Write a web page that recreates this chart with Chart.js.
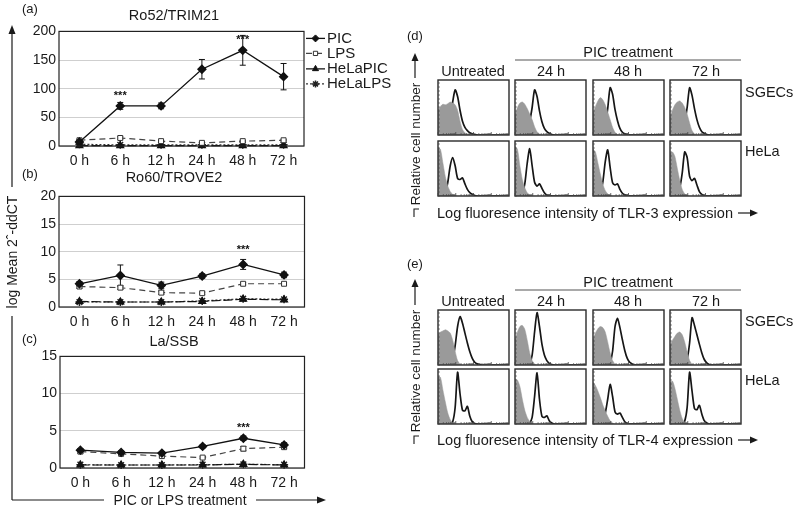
<!DOCTYPE html>
<html>
<head>
<meta charset="utf-8">
<script src="https://cdn.jsdelivr.net/npm/chart.js@4.4.1/dist/chart.umd.min.js"></script>
<style>
  body { margin:0; background:#fff; width:798px; height:509px; overflow:hidden; position:relative; font-family:"Liberation Sans", Arial, sans-serif; }
  canvas { position:absolute; }
  #deco { position:absolute; left:0; top:0; pointer-events:none; }
  #deco text { font-family:"Liberation Sans", Arial, sans-serif; fill:#1a1a1a; }
</style>
</head>
<body>
<svg id="deco" width="798" height="509">
  <!-- left: shared axes -->
  <g stroke="#1a1a1a" stroke-width="1.2" fill="none">
    <line x1="12" y1="31" x2="12" y2="187"/>
    <line x1="12" y1="316" x2="12" y2="500"/>
    <line x1="12" y1="500" x2="104" y2="500"/>
    <line x1="256" y1="500" x2="318" y2="500"/>
  </g>
  <polygon points="12,25 8.5,34 15.5,34" fill="#1a1a1a"/>
  <polygon points="326,500 317,496.5 317,503.5" fill="#1a1a1a"/>
  <text x="12" y="252" font-size="14" text-anchor="middle" dominant-baseline="central" transform="rotate(-90 12 252)">log Mean 2ˆ-ddCT</text>
  <text x="180" y="500" font-size="14" text-anchor="middle" dominant-baseline="central">PIC or LPS treatment</text>
  <text x="22" y="8" font-size="13" dominant-baseline="central">(a)</text>
  <text x="22" y="173" font-size="13" dominant-baseline="central">(b)</text>
  <text x="22" y="338" font-size="13" dominant-baseline="central">(c)</text>
  <text x="174" y="15" font-size="14.5" text-anchor="middle" dominant-baseline="central">Ro52/TRIM21</text>
  <text x="174" y="177" font-size="14.5" text-anchor="middle" dominant-baseline="central">Ro60/TROVE2</text>
  <text x="174" y="341" font-size="14.5" text-anchor="middle" dominant-baseline="central">La/SSB</text>

  <!-- right: (d) TLR-3 -->
  <text x="407" y="35" font-size="13" dominant-baseline="central">(d)</text>
  <text x="628" y="52" font-size="14.5" text-anchor="middle" dominant-baseline="central">PIC treatment</text>
  <line x1="515" y1="60" x2="741" y2="60" stroke="#555" stroke-width="1.2"/>
  <text x="473" y="71" font-size="14.5" text-anchor="middle" dominant-baseline="central">Untreated</text>
  <text x="551" y="71" font-size="14.5" text-anchor="middle" dominant-baseline="central">24 h</text>
  <text x="628" y="71" font-size="14.5" text-anchor="middle" dominant-baseline="central">48 h</text>
  <text x="706" y="71" font-size="14.5" text-anchor="middle" dominant-baseline="central">72 h</text>
  <text x="745" y="92" font-size="14.5" dominant-baseline="central">SGECs</text>
  <text x="745" y="151" font-size="14.5" dominant-baseline="central">HeLa</text>
  <text x="415" y="144" font-size="13.5" text-anchor="middle" dominant-baseline="central" transform="rotate(-90 415 144)">Relative cell number</text>
  <line x1="415" y1="78" x2="415" y2="60" stroke="#1a1a1a" stroke-width="1.2"/>
  <polygon points="415,53 411.5,61 418.5,61" fill="#1a1a1a"/>
  <path d="M414,217 L414,209 L419,209" stroke="#1a1a1a" stroke-width="1.1" fill="none"/>
  <text x="437" y="213" font-size="14.5" dominant-baseline="central" textLength="296" lengthAdjust="spacingAndGlyphs">Log fluoresence intensity of TLR-3 expression</text>
  <line x1="738" y1="213" x2="752" y2="213" stroke="#1a1a1a" stroke-width="1.2"/>
  <polygon points="758,213 750,209.5 750,216.5" fill="#1a1a1a"/>

  <!-- right: (e) TLR-4 -->
  <text x="407" y="263" font-size="13" dominant-baseline="central">(e)</text>
  <text x="628" y="282" font-size="14.5" text-anchor="middle" dominant-baseline="central">PIC treatment</text>
  <line x1="515" y1="290" x2="741" y2="290" stroke="#555" stroke-width="1.2"/>
  <text x="473" y="301" font-size="14.5" text-anchor="middle" dominant-baseline="central">Untreated</text>
  <text x="551" y="301" font-size="14.5" text-anchor="middle" dominant-baseline="central">24 h</text>
  <text x="628" y="301" font-size="14.5" text-anchor="middle" dominant-baseline="central">48 h</text>
  <text x="706" y="301" font-size="14.5" text-anchor="middle" dominant-baseline="central">72 h</text>
  <text x="745" y="321" font-size="14.5" dominant-baseline="central">SGECs</text>
  <text x="745" y="380" font-size="14.5" dominant-baseline="central">HeLa</text>
  <text x="415" y="371" font-size="13.5" text-anchor="middle" dominant-baseline="central" transform="rotate(-90 415 371)">Relative cell number</text>
  <line x1="415" y1="305" x2="415" y2="287" stroke="#1a1a1a" stroke-width="1.2"/>
  <polygon points="415,279 411.5,287 418.5,287" fill="#1a1a1a"/>
  <path d="M414,444 L414,436 L419,436" stroke="#1a1a1a" stroke-width="1.1" fill="none"/>
  <text x="437" y="440" font-size="14.5" dominant-baseline="central" textLength="296" lengthAdjust="spacingAndGlyphs">Log fluoresence intensity of TLR-4 expression</text>
  <line x1="738" y1="440" x2="752" y2="440" stroke="#1a1a1a" stroke-width="1.2"/>
  <polygon points="758,440 750,436.5 750,443.5" fill="#1a1a1a"/>
</svg>
<script>
// ---------- data: qPCR time course ----------
const HOURS = ['0 h', '6 h', '12 h', '24 h', '48 h', '72 h'];
const SERIES = ['PIC', 'LPS', 'HeLaPIC', 'HeLaLPS'];

// (a) Ro52/TRIM21
const RO52_PIC = [7, 70, 70, 134, 167, 121];
const RO52_PIC_ERR = [2, 6, 5, 17, 26, 23];
const RO52_LPS = [10, 14, 8.5, 5.5, 8.5, 10];
const RO52_LPS_ERR = [1, 2, 1, 1, 1, 1];
const RO52_HELA_PIC = [0.5, 0.5, 0.5, 0.5, 0.5, 0.5];
const RO52_HELA_LPS = [3, 2, 2, 2, 2, 2];
const RO52_MAX = 200, RO52_STEP = 50;
const RO52_STAR_AT = [1, 4], RO52_STAR_Y = [87, 185];

// (b) Ro60/TROVE2
const RO60_PIC = [4.2, 5.7, 3.9, 5.6, 7.7, 5.8];
const RO60_PIC_ERR = [0.4, 1.9, 0.6, 0.4, 0.9, 0.5];
const RO60_LPS = [3.7, 3.5, 2.6, 2.5, 4.2, 4.2];
const RO60_LPS_ERR = [0.3, 0.3, 0.3, 0.2, 0.2, 0.2];
const RO60_HELA_PIC = [1.0, 0.9, 0.9, 1.0, 1.4, 1.3];
const RO60_HELA_LPS = [0.9, 0.9, 0.9, 1.1, 1.5, 1.4];
const RO60_MAX = 20, RO60_STEP = 5;
const RO60_STAR_AT = [4], RO60_STAR_Y = [10.4];

// (c) La/SSB
const LA_PIC = [2.4, 2.1, 2.0, 2.9, 4.0, 3.1];
const LA_PIC_ERR = [0.2, 0.2, 0.2, 0.2, 0.3, 0.3];
const LA_LPS = [2.2, 1.9, 1.6, 1.4, 2.6, 2.8];
const LA_LPS_ERR = [0.2, 0.1, 0.1, 0.1, 0.3, 0.2];
const LA_HELA_PIC = [0.4, 0.4, 0.4, 0.4, 0.5, 0.4];
const LA_HELA_LPS = [0.45, 0.4, 0.4, 0.45, 0.5, 0.45];
const LA_MAX = 15, LA_STEP = 5;
const LA_STAR_AT = [4], LA_STAR_Y = [5.4];

// ---------- data: flow histograms (relative count per bin, 0-100) ----------
// columns: Untreated, 24 h, 48 h, 72 h ; grey = control, black = stained
const TLR3_SGEC_GREY = [
  [45, 52, 56, 55, 57, 60, 58, 55, 45, 25, 10, 4, 1],
  [35, 50, 58, 60, 56, 48, 38, 28, 15, 6, 2],
  [40, 52, 62, 68, 64, 55, 42, 28, 14, 5, 1],
  [30, 45, 55, 60, 62, 58, 50, 38, 22, 8, 2]
];
const TLR3_SGEC_BLACK = [
  [0, 0, 0, 4, 15, 35, 60, 82, 70, 45, 25, 14, 8, 4, 2, 1],
  [0, 0, 0, 0, 3, 10, 25, 50, 82, 70, 44, 24, 12, 6, 3, 1],
  [0, 0, 0, 1, 5, 18, 48, 86, 74, 46, 26, 12, 5, 2, 1],
  [0, 0, 0, 0, 2, 8, 22, 50, 86, 72, 48, 28, 14, 6, 3, 1]
];
const TLR3_HELA_GREY = [
  [88, 85, 60, 35, 18, 8, 3, 1],
  [90, 85, 55, 30, 15, 6, 2],
  [85, 80, 60, 40, 22, 10, 4, 1],
  [78, 80, 72, 50, 28, 12, 4, 1]
];
const TLR3_HELA_BLACK = [
  [0, 0, 1, 6, 25, 55, 70, 55, 32, 30, 33, 22, 12, 6, 3, 1],
  [0, 0, 1, 5, 22, 60, 86, 55, 25, 18, 22, 14, 6, 2, 1],
  [0, 0, 1, 6, 25, 62, 84, 52, 24, 20, 22, 12, 5, 2, 1],
  [0, 0, 0, 3, 15, 42, 80, 70, 36, 28, 32, 20, 8, 3, 1]
];
const TLR4_SGEC_GREY = [
  [55, 60, 62, 64, 62, 58, 45, 25, 8, 2],
  [45, 60, 70, 72, 65, 45, 22, 8, 2],
  [45, 58, 66, 70, 68, 60, 42, 22, 8, 2],
  [35, 45, 52, 58, 60, 55, 42, 24, 8, 2]
];
const TLR4_SGEC_BLACK = [
  [0, 0, 0, 0, 0, 3, 12, 35, 70, 88, 76, 58, 40, 24, 12, 5, 2, 1],
  [0, 0, 0, 0, 0, 0, 3, 18, 60, 95, 70, 38, 18, 8, 3, 1],
  [0, 0, 0, 0, 0, 0, 0, 4, 25, 70, 85, 68, 46, 26, 12, 5, 2],
  [0, 0, 0, 0, 0, 0, 2, 10, 40, 86, 72, 55, 38, 22, 10, 4, 1]
];
const TLR4_HELA_GREY = [
  [87, 85, 62, 40, 20, 8, 2],
  [82, 80, 68, 45, 25, 12, 5, 1],
  [76, 70, 60, 48, 35, 24, 14, 6, 2],
  [75, 78, 65, 45, 25, 10, 3, 1]
];
const TLR4_HELA_BLACK = [
  [0, 0, 0, 0, 0, 1, 4, 30, 94, 55, 25, 24, 32, 14, 4, 1],
  [0, 0, 0, 0, 0, 0, 2, 12, 50, 93, 45, 14, 12, 15, 6, 2],
  [0, 0, 1, 3, 8, 20, 45, 72, 50, 22, 18, 20, 12, 4, 1],
  [0, 0, 0, 0, 0, 1, 5, 30, 94, 60, 28, 26, 34, 18, 6, 2]
];
const NBINS = 30;
const BINS = Array.from({ length: NBINS }, (_, i) => i);

// panel boxes (px)
const COLS_X = [437, 514, 592, 669];
const PANEL_W = 73;
const D_ROWS_Y = [79, 140];
const E_ROWS_Y = [309, 368];
const PANEL_H = 57;

// ---------- helpers ----------
Chart.defaults.font.family = '"Liberation Sans", Arial, sans-serif';
Chart.defaults.color = '#1a1a1a';

const deco = document.getElementById('deco');
function mkCanvas(x, y, w, h) {
  const c = document.createElement('canvas');
  c.width = w; c.height = h;
  c.style.left = x + 'px'; c.style.top = y + 'px';
  c.style.width = w + 'px'; c.style.height = h + 'px';
  document.body.insertBefore(c, deco);
  return c;
}
const padBins = a => a.concat(new Array(NBINS - a.length).fill(0));

const STYLES = [
  { borderColor: '#111', borderWidth: 1.3, pointStyle: 'rectRot', pointRadius: 4, pointBackgroundColor: '#111', pointBorderColor: '#111' },
  { borderColor: '#444', borderWidth: 1.2, borderDash: [6, 4], pointStyle: 'rect', pointRadius: 3.5, pointBackgroundColor: '#fff', pointBorderColor: '#333', pointBorderWidth: 1 },
  { borderColor: '#111', borderWidth: 1.2, borderDash: [9, 3], pointStyle: 'triangle', pointRadius: 4, pointBackgroundColor: '#111', pointBorderColor: '#111' },
  { borderColor: '#333', borderWidth: 1.2, borderDash: [2, 2], pointStyle: 'star', pointRadius: 4, pointBorderColor: '#222', pointBorderWidth: 1.5 }
];

const frame = {
  id: 'frame',
  afterDraw(chart) {
    const { ctx, chartArea: a } = chart;
    ctx.save();
    ctx.strokeStyle = '#222'; ctx.lineWidth = 1.2;
    ctx.strokeRect(a.left, a.top, a.right - a.left, a.bottom - a.top);
    ctx.restore();
  }
};

const errorBars = {
  id: 'errorBars',
  beforeDatasetsDraw(chart) {
    const { ctx, scales: { x, y } } = chart;
    ctx.save();
    ctx.strokeStyle = '#111'; ctx.lineWidth = 1;
    chart.data.datasets.forEach(ds => {
      if (!ds.errors) return;
      ds.data.forEach((v, i) => {
        const e = ds.errors[i];
        if (!e) return;
        const px = x.getPixelForValue(i);
        const t = y.getPixelForValue(v + e), b = y.getPixelForValue(Math.max(0, v - e));
        ctx.beginPath();
        ctx.moveTo(px, t); ctx.lineTo(px, b);
        ctx.moveTo(px - 3, t); ctx.lineTo(px + 3, t);
        ctx.moveTo(px - 3, b); ctx.lineTo(px + 3, b);
        ctx.stroke();
      });
    });
    ctx.restore();
  }
};

function starsPlugin(at, vals) {
  return {
    id: 'stars',
    afterDatasetsDraw(chart) {
      const { ctx, scales: { x, y } } = chart;
      ctx.save();
      ctx.fillStyle = '#111';
      ctx.font = 'bold 11px "Liberation Sans", Arial';
      ctx.textAlign = 'center'; ctx.textBaseline = 'middle';
      at.forEach((i, k) => ctx.fillText('***', x.getPixelForValue(i), y.getPixelForValue(vals[k])));
      ctx.restore();
    }
  };
}

// legend to the right of panel (a)
const sideLegend = {
  id: 'sideLegend',
  afterDraw(chart) {
    const { ctx, chartArea: a } = chart;
    const x0 = a.right + 2, x1 = a.right + 21, tx = a.right + 23;
    const ys = [a.top + 7, a.top + 22, a.top + 37.5, a.top + 52.5];
    ctx.save();
    SERIES.forEach((name, k) => {
      const s = STYLES[k], y = ys[k];
      ctx.strokeStyle = s.borderColor; ctx.lineWidth = s.borderWidth;
      ctx.setLineDash(s.borderDash || []);
      ctx.beginPath(); ctx.moveTo(x0, y); ctx.lineTo(x1, y); ctx.stroke();
      ctx.setLineDash([]);
      ctx.fillStyle = s.pointBackgroundColor || '#fff';
      ctx.strokeStyle = s.pointBorderColor; ctx.lineWidth = s.pointBorderWidth || 1;
      Chart.helpers.drawPoint(ctx, { pointStyle: s.pointStyle, radius: s.pointRadius - 0.5, rotation: 0, borderWidth: s.pointBorderWidth || 1 }, (x0 + x1) / 2, y);
      ctx.fillStyle = '#1a1a1a';
      ctx.font = '15px "Liberation Sans", Arial';
      ctx.textAlign = 'left'; ctx.textBaseline = 'middle';
      ctx.fillText(name, tx, y);
    });
    ctx.restore();
  }
};

function lineChart(box, pad, series, errs, yMax, yStep, starAt, starY, extra) {
  const c = mkCanvas(box[0], box[1], box[2], box[3]);
  const datasets = series.map((d, k) => Object.assign({
    label: SERIES[k], data: d, errors: errs[k], tension: 0, clip: false, fill: false
  }, STYLES[k]));
  const plugins = [errorBars, frame, starsPlugin(starAt, starY)];
  if (extra) plugins.push(extra);
  return new Chart(c, {
    type: 'line',
    data: { labels: HOURS, datasets },
    options: {
      responsive: false, animation: false, devicePixelRatio: 1, events: [],
      layout: { padding: { top: pad[0], right: pad[1], bottom: 0, left: 0 } },
      plugins: { legend: { display: false }, tooltip: { enabled: false } },
      scales: {
        x: {
          offset: true,
          grid: { display: false, drawTicks: false },
          border: { display: false },
          ticks: { font: { size: 14 }, padding: 7, maxRotation: 0, autoSkip: false },
          afterFit: s => { s.height = pad[2]; }
        },
        y: {
          min: 0, max: yMax,
          grid: { color: '#cfcfcf', drawTicks: false, lineWidth: 1 },
          border: { display: false },
          ticks: { stepSize: yStep, font: { size: 14 }, padding: 3 },
          afterFit: s => { s.width = pad[3]; }
        }
      }
    },
    plugins
  });
}

// ---------- left charts ----------
lineChart([20, 20, 375, 150], [7, 91, 24, 39],
  [RO52_PIC, RO52_LPS, RO52_HELA_PIC, RO52_HELA_LPS],
  [RO52_PIC_ERR, RO52_LPS_ERR, null, null],
  RO52_MAX, RO52_STEP, RO52_STAR_AT, RO52_STAR_Y, sideLegend);

lineChart([20, 185, 290, 146], [7, 5, 24, 39],
  [RO60_PIC, RO60_LPS, RO60_HELA_PIC, RO60_HELA_LPS],
  [RO60_PIC_ERR, RO60_LPS_ERR, null, null],
  RO60_MAX, RO60_STEP, RO60_STAR_AT, RO60_STAR_Y);

lineChart([20, 345, 290, 147], [7, 3, 24, 40],
  [LA_PIC, LA_LPS, LA_HELA_PIC, LA_HELA_LPS],
  [LA_PIC_ERR, LA_LPS_ERR, null, null],
  LA_MAX, LA_STEP, LA_STAR_AT, LA_STAR_Y);

// ---------- histograms ----------
const histFrame = {
  id: 'histFrame',
  afterDraw(chart) {
    const { ctx, chartArea: a } = chart;
    ctx.save();
    ctx.strokeStyle = '#2a2a2a'; ctx.lineWidth = 1.4;
    ctx.strokeRect(a.left, a.top, a.right - a.left, a.bottom - a.top);
    // inner log-style tick marks on bottom and left edges
    ctx.lineWidth = 0.8; ctx.strokeStyle = '#444';
    const w = a.right - a.left, dec = w / 4;
    ctx.beginPath();
    for (let d = 0; d < 4; d++) {
      for (let k = 1; k <= 9; k++) {
        const x = a.left + d * dec + Math.log10(k) * dec;
        const len = k === 1 ? 3 : 1.8;
        ctx.moveTo(x, a.bottom); ctx.lineTo(x, a.bottom - len);
      }
    }
    for (let y = a.bottom; y > a.top; y -= 4) {
      ctx.moveTo(a.left, y); ctx.lineTo(a.left + 1.8, y);
    }
    ctx.stroke();
    ctx.restore();
  }
};

function histChart(x, y, grey, black) {
  const c = mkCanvas(x, y, PANEL_W, PANEL_H);
  return new Chart(c, {
    type: 'line',
    data: {
      labels: BINS,
      datasets: [
        { data: padBins(grey), fill: 'origin', backgroundColor: '#9a9a9a', borderColor: '#9a9a9a', borderWidth: 0.5, pointRadius: 0, tension: 0.25 },
        { data: padBins(black), fill: false, borderColor: '#161616', borderWidth: 1.7, pointRadius: 0, tension: 0.25 }
      ]
    },
    options: {
      responsive: false, animation: false, devicePixelRatio: 1, events: [],
      layout: { padding: 1 },
      plugins: { legend: { display: false }, tooltip: { enabled: false } },
      scales: {
        x: { display: false, offset: false },
        y: { display: false, min: 0, max: 100 }
      }
    },
    plugins: [histFrame]
  });
}

COLS_X.forEach((cx, i) => {
  histChart(cx, D_ROWS_Y[0], TLR3_SGEC_GREY[i], TLR3_SGEC_BLACK[i]);
  histChart(cx, D_ROWS_Y[1], TLR3_HELA_GREY[i], TLR3_HELA_BLACK[i]);
  histChart(cx, E_ROWS_Y[0], TLR4_SGEC_GREY[i], TLR4_SGEC_BLACK[i]);
  histChart(cx, E_ROWS_Y[1], TLR4_HELA_GREY[i], TLR4_HELA_BLACK[i]);
});
</script>
</body>
</html>
